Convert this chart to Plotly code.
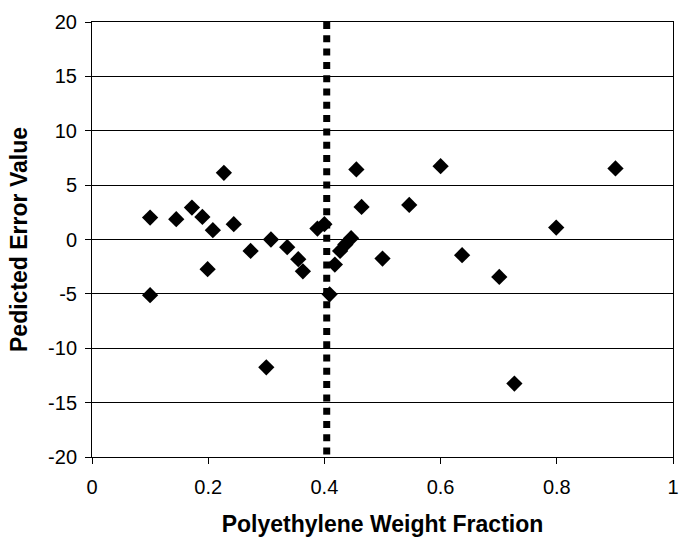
import plotly.graph_objects as go

# ---- data ----
pe_fraction = [0.100, 0.100, 0.145, 0.172, 0.190, 0.199, 0.208, 0.227, 0.244, 0.273,
               0.300, 0.308, 0.336, 0.355, 0.363, 0.388, 0.400, 0.409, 0.418, 0.427,
               0.436, 0.446, 0.455, 0.464, 0.500, 0.546, 0.600, 0.637, 0.701, 0.727,
               0.799, 0.901]
pred_error = [2.02, -5.12, 1.87, 2.94, 2.08, -2.73, 0.86, 6.13, 1.41, -1.05,
              -11.75, 0.00, -0.71, -1.81, -2.92, 1.01, 1.41, -5.04, -2.30, -1.05,
              -0.46, 0.12, 6.44, 3.00, -1.75, 3.18, 6.74, -1.44, -3.44, -13.25,
              1.10, 6.53]

threshold_x = 0.404          # dotted vertical line
y_range = [-20, 20]
x_range = [0, 1]

x_tickvals = [0, 0.2, 0.4, 0.6, 0.8, 1]
x_ticktext = ["0", "0.2", "0.4", "0.6", "0.8", "1"]
y_tickvals = [-20, -15, -10, -5, 0, 5, 10, 15, 20]
y_ticktext = ["-20", "-15", "-10", "-5", "0", "5", "10", "15", "20"]

x_title = "Polyethylene Weight Fraction"
y_title = "Pedicted Error Value"

FONT = "Liberation Sans, Arial, sans-serif"

fig = go.Figure()

fig.add_trace(go.Scatter(
    x=pe_fraction, y=pred_error, mode="markers",
    marker=dict(symbol="diamond", size=12.5, color="black", line=dict(width=0)),
    showlegend=False, cliponaxis=False,
))

fig.add_shape(
    type="line", xref="x", yref="y",
    x0=threshold_x, x1=threshold_x, y0=y_range[1], y1=y_range[0],
    line=dict(color="black", width=7, dash="7px,6.3px"),
    layer="above",
)

fig.update_layout(
    width=679, height=537,
    margin=dict(l=92, r=6, t=22, b=80, autoexpand=False),
    paper_bgcolor="white", plot_bgcolor="white",
    font=dict(family=FONT, size=20, color="black"),
    showlegend=False,
)

fig.update_xaxes(
    range=x_range, tickvals=x_tickvals, ticktext=x_ticktext,
    showgrid=False, zeroline=False,
    showline=True, mirror=True, linecolor="black", linewidth=1,
    ticks="outside", ticklen=6, tickcolor="black", tickwidth=1,
    ticklabelstandoff=6,
    tickfont=dict(family=FONT, size=20, color="black"),
    title=dict(text=x_title, font=dict(family=FONT, size=23, color="black", weight="bold"),
               standoff=23),
    automargin=False,
)

fig.update_yaxes(
    range=y_range, tickvals=y_tickvals, ticktext=y_ticktext,
    showgrid=True, gridcolor="black", gridwidth=1, zeroline=False,
    showline=True, mirror=True, linecolor="black", linewidth=1,
    ticks="outside", ticklen=6, tickcolor="black", tickwidth=1,
    ticklabelstandoff=4,
    tickfont=dict(family=FONT, size=20, color="black"),
    title=dict(text=y_title, font=dict(family=FONT, size=23, color="black", weight="bold"),
               standoff=14),
    automargin=False,
)

fig.write_html("out.html",
               config={"displayModeBar": False},
               post_script="document.body.style.margin='0px';document.body.style.overflow='hidden';")
